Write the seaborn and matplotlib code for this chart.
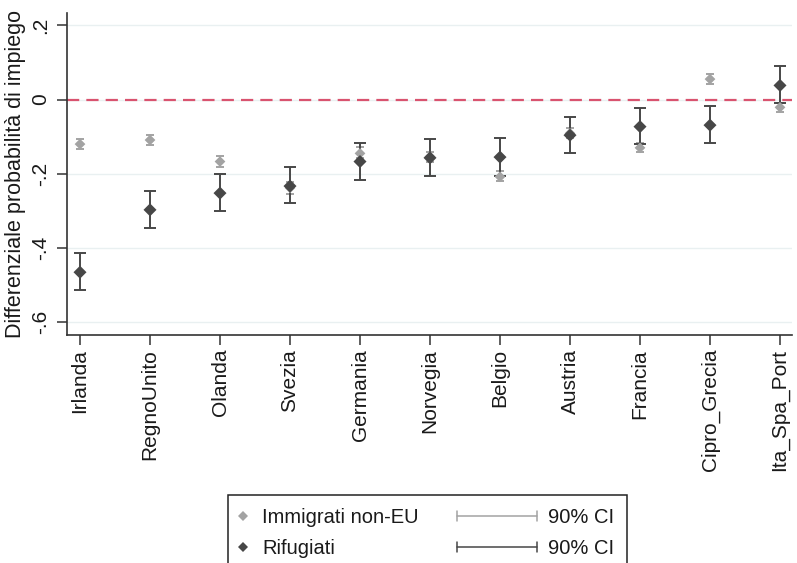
import matplotlib
matplotlib.use("Agg")
import matplotlib.pyplot as plt
import numpy as np
import pandas as pd
import seaborn as sns
from matplotlib.lines import Line2D
from matplotlib.legend_handler import HandlerLine2D, HandlerBase

# Country groups (ordered by the refugee coefficient)
paesi = ["Irlanda", "RegnoUnito", "Olanda", "Svezia", "Germania", "Norvegia",
         "Belgio", "Austria", "Francia", "Cipro_Grecia", "Ita_Spa_Port"]

# Non-EU immigrants: point estimate and 90% CI
imm_coef = [-0.120, -0.109, -0.167, -0.238, -0.145, -0.154, -0.208, -0.091, -0.130, 0.055, -0.021]
imm_lo = [-0.134, -0.122, -0.181, -0.255, -0.158, -0.167, -0.219, -0.104, -0.142, 0.042, -0.034]
imm_hi = [-0.105, -0.096, -0.152, -0.222, -0.127, -0.142, -0.192, -0.076, -0.116, 0.069, -0.008]

# Refugees: point estimate and 90% CI
rif_coef = [-0.465, -0.297, -0.252, -0.233, -0.167, -0.157, -0.155, -0.096, -0.073, -0.069, 0.038]
rif_lo = [-0.514, -0.347, -0.300, -0.279, -0.217, -0.206, -0.206, -0.145, -0.121, -0.116, -0.010]
rif_hi = [-0.414, -0.246, -0.201, -0.182, -0.116, -0.106, -0.104, -0.046, -0.022, -0.018, 0.089]

y_ticks = [0.2, 0.0, -0.2, -0.4, -0.6]
y_ticklabels = [".2", "0", "-.2", "-.4", "-.6"]

serie = ["Immigrati non-EU", "Rifugiati"]
ci_label = "90% CI"

col_imm = "#a3a3a3"
col_rif = "#474747"
col_zero = "#d9536f"

sns.set_theme(style="white")
plt.rcParams["font.family"] = ["Liberation Sans", "DejaVu Sans"]

df = pd.DataFrame({
    "paese": paesi * 2,
    "coef": imm_coef + rif_coef,
    "lo": imm_lo + rif_lo,
    "hi": imm_hi + rif_hi,
    "gruppo": [serie[0]] * len(paesi) + [serie[1]] * len(paesi),
})

fig = plt.figure(figsize=(7.97, 5.63), dpi=100)
W, H = 797, 563
ax = fig.add_axes([67 / W, 1 - 335 / H, (792 - 67) / W, (335 - 13) / H])

# Horizontal grid and zero reference line
for yt in y_ticks:
    ax.axhline(yt, color="#e9f0f1", lw=1.0, zorder=0)
ax.axhline(0, color=col_zero, lw=1.6, ls=(0, (5.5, 3.2)), zorder=1)

# Confidence intervals and point estimates
pos = np.arange(len(paesi))
for gruppo, col, cap, ms in [(serie[0], col_imm, 3.2, 30), (serie[1], col_rif, 4.5, 44)]:
    d = df[df["gruppo"] == gruppo]
    ax.errorbar(pos, d["coef"], yerr=[d["coef"] - d["lo"], d["hi"] - d["coef"]],
                fmt="none", ecolor=col, elinewidth=1.4, capsize=cap, capthick=1.4, zorder=2)
    sns.scatterplot(data=d, x="paese", y="coef", marker="D", s=ms, color=col,
                    edgecolor="none", linewidth=0, ax=ax, zorder=3, legend=False)

ax.set_xlim(-13 / 70, 10 + 12 / 70)
ax.set_ylim(-0.634, 0.233)
ax.set_xticks(pos)
ax.set_xticklabels(paesi, rotation=90, fontsize=15)
ax.set_yticks(y_ticks)
ax.set_yticklabels(y_ticklabels, rotation=90, va="center", fontsize=15)
ax.set_xlabel("")
ax.set_ylabel("Differenziale probabilità di impiego", fontsize=15.5, labelpad=4, color="#1a1a1a")
ax.tick_params(axis="both", direction="out", length=7, width=1.1, color="#333333",
               labelcolor="#1a1a1a", pad=3, left=True, bottom=True)
ax.tick_params(axis="y", pad=5)
for side in ["top", "right"]:
    ax.spines[side].set_visible(False)
for side in ["left", "bottom"]:
    ax.spines[side].set_color("#333333")
    ax.spines[side].set_linewidth(1.2)


class HandlerCI(HandlerBase):
    """Horizontal capped range line used for the CI legend entries."""

    def __init__(self, color, extra, shift):
        super().__init__()
        self.color = color
        self.extra = extra
        self.shift = shift

    def create_artists(self, legend, orig_handle, xdescent, ydescent, width, height, fontsize, trans):
        y = height / 2 - ydescent
        x1 = width - xdescent + self.shift
        x0 = x1 - self.extra
        h = 3.5
        arts = [Line2D([x0, x1], [y, y], color=self.color, lw=1.1),
                Line2D([x0, x0], [y - h, y + h], color=self.color, lw=1.1),
                Line2D([x1, x1], [y - h, y + h], color=self.color, lw=1.1)]
        for a in arts:
            a.set_transform(trans)
        return arts


h_imm = Line2D([], [], marker="D", ls="none", color=col_imm, markersize=5, markeredgewidth=0)
h_rif = Line2D([], [], marker="D", ls="none", color=col_rif, markersize=5, markeredgewidth=0)
h_ci_imm = Line2D([], [], color=col_imm)
h_ci_rif = Line2D([], [], color=col_rif)

leg = fig.legend([h_imm, h_rif, h_ci_imm, h_ci_rif],
                 [serie[0], serie[1], ci_label, ci_label],
                 ncol=2, loc="upper left", bbox_to_anchor=(228 / W, 1 - 495 / H),
                 borderaxespad=0, fontsize=14.5, frameon=True, fancybox=False,
                 handlelength=0.2, handletextpad=0.85, columnspacing=5.35,
                 labelspacing=0.6, borderpad=0.65,
                 handler_map={h_imm: HandlerLine2D(numpoints=1),
                              h_rif: HandlerLine2D(numpoints=1),
                              h_ci_imm: HandlerCI(col_imm, 58, 5),
                              h_ci_rif: HandlerCI(col_rif, 58, 5)})
leg.get_frame().set_edgecolor("#222222")
leg.get_frame().set_linewidth(1.1)
leg.get_frame().set_alpha(1)
for t in leg.get_texts():
    t.set_color("#1a1a1a")

fig.savefig("out.png", dpi=100, facecolor="white")
